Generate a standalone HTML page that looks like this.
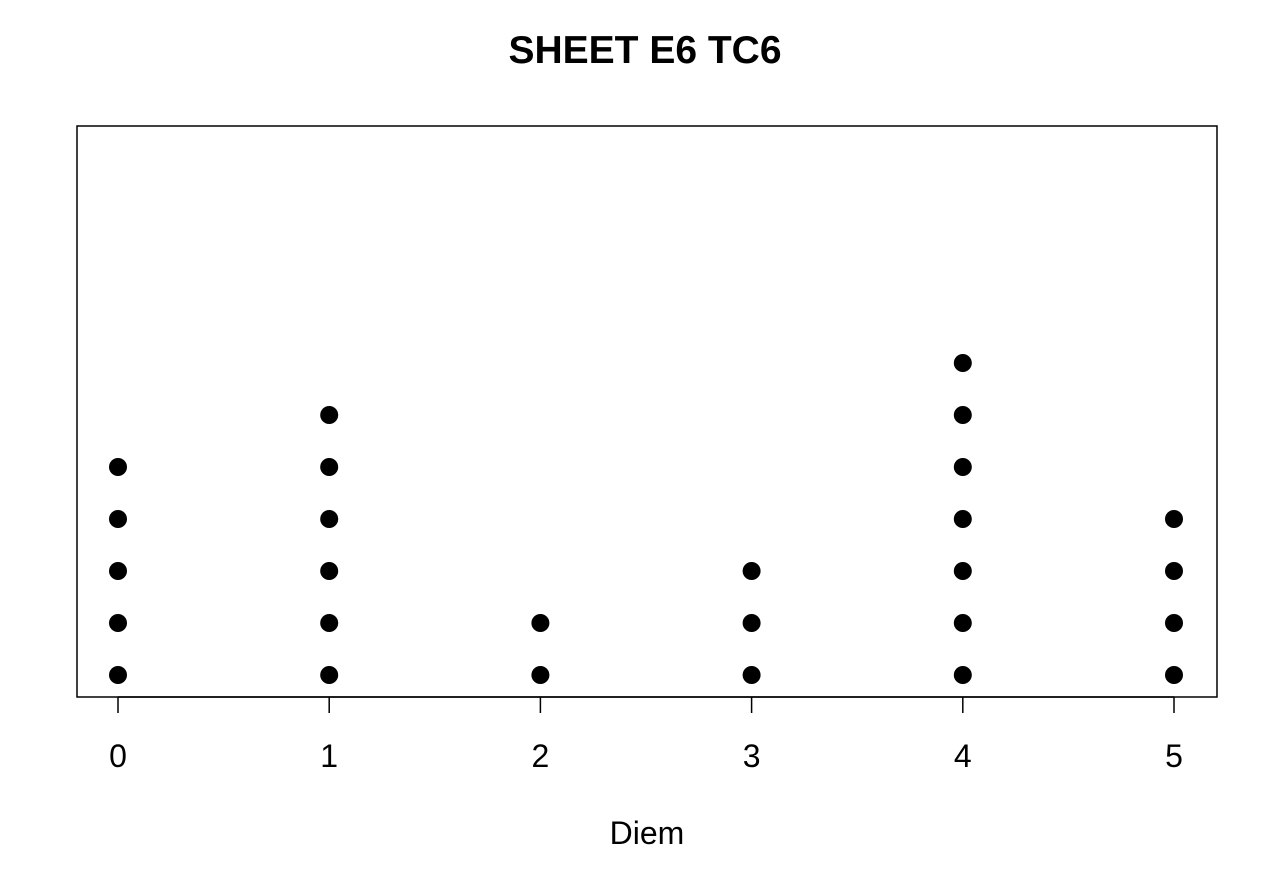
<!DOCTYPE html>
<html><head><meta charset="utf-8"><style>
body{margin:0;background:#fff;}
svg{display:block;font-family:"Liberation Sans",Arial,sans-serif;}
</style></head><body>
<svg id="chart" width="1280" height="874">
<text x="645" y="63" text-anchor="middle" font-size="39" font-weight="bold">SHEET E6 TC6</text>
<rect x="77" y="126" width="1140" height="571" fill="none" stroke="#000" stroke-width="1.5"/>
<g id="xaxis"></g>
<g id="dots"></g>
<text x="647" y="844" text-anchor="middle" font-size="32">Diem</text>
</svg>
<script>
const categories = [0, 1, 2, 3, 4, 5];
const counts = [5, 6, 2, 3, 7, 4];
const tickLabels = ["0", "1", "2", "3", "4", "5"];
const NS = "http://www.w3.org/2000/svg";
function xScale(v){ return 118 + (v - 0) * (1174 - 118) / 5; }
function yScale(k){ return 675 - k * 52; }
const ax = document.getElementById('xaxis');
const dots = document.getElementById('dots');
const line = document.createElementNS(NS,'line');
line.setAttribute('x1', xScale(categories[0])); line.setAttribute('x2', xScale(categories[categories.length-1]));
line.setAttribute('y1', 697); line.setAttribute('y2', 697); line.setAttribute('stroke','#000'); line.setAttribute('stroke-width','1.5');


ax.appendChild(line);
categories.forEach((c, i) => {
  const x = xScale(c);
  const t = document.createElementNS(NS,'line');
  t.setAttribute('x1', x); t.setAttribute('x2', x); t.setAttribute('y1', 697); t.setAttribute('y2', 713);
  t.setAttribute('stroke','#000'); t.setAttribute('stroke-width','1.5');
  
  
  ax.appendChild(t);
  const lb = document.createElementNS(NS,'text');
  lb.setAttribute('x', x); lb.setAttribute('y', 767); lb.setAttribute('text-anchor','middle'); lb.setAttribute('font-size','32');
  lb.textContent = tickLabels[i];
  
  
  ax.appendChild(lb);
  for (let k = 0; k < counts[i]; k++) {
    const d = document.createElementNS(NS,'circle');
    d.setAttribute('cx', x); d.setAttribute('cy', yScale(k)); d.setAttribute('r', 9);
    d.setAttribute('fill','#000');
    
    
    dots.appendChild(d);
  }
});
</script>
</body></html>
